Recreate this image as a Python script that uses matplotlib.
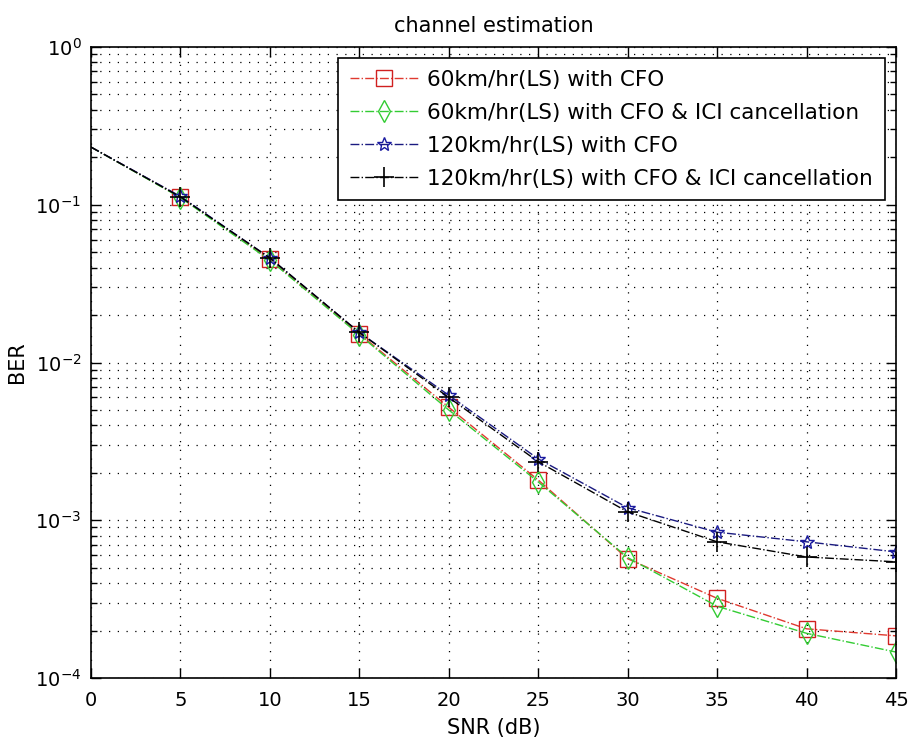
import matplotlib
matplotlib.use("Agg")
import matplotlib.pyplot as plt
from matplotlib.ticker import LogLocator, NullFormatter

plt.rcParams['font.family'] = ['DejaVu Sans']
plt.rcParams['mathtext.fontset'] = 'dejavusans'

snr = [0, 5, 10, 15, 20, 25, 30, 35, 40, 45]
ber_60_cfo = [0.232, 0.112, 0.0450, 0.0152, 0.0052, 0.00180, 5.7e-4, 3.2e-4, 2.05e-4, 1.85e-4]
ber_60_ici = [0.232, 0.111, 0.0445, 0.0150, 0.0050, 0.00175, 5.8e-4, 2.85e-4, 1.92e-4, 1.46e-4]
ber_120_cfo = [0.232, 0.113, 0.0460, 0.0155, 0.0062, 0.00245, 1.20e-3, 8.4e-4, 7.3e-4, 6.3e-4]
ber_120_ici = [0.232, 0.112, 0.0460, 0.0155, 0.0060, 0.00235, 1.13e-3, 7.3e-4, 5.85e-4, 5.45e-4]
labels = ['60km/hr(LS) with CFO',
          '60km/hr(LS) with CFO & ICI cancellation',
          '120km/hr(LS) with CFO',
          '120km/hr(LS) with CFO & ICI cancellation']

fig = plt.figure(figsize=(9.13, 7.42), dpi=100)
ax = fig.add_axes([91/913, 1-678/742, (896-91)/913, (678-47)/742])

me = slice(1, None)
ax.semilogy(snr, ber_60_cfo, '-.', color='#e03a30', marker='s', ms=11, mfc='none', mec='#d02020',
            lw=1.0, markevery=me, label=labels[0])
ax.semilogy(snr, ber_60_ici, '-.', color='#33cc33', marker='d', ms=11, mfc='none', mec='#33cc33',
            lw=1.0, markevery=me, label=labels[1])
ax.semilogy(snr, ber_120_cfo, '-.', color='#1a1a80', marker='*', ms=10, mfc='none', mec='#1a1aa0',
            lw=1.0, markevery=me, label=labels[2])
ax.semilogy(snr, ber_120_ici, '-.', color='black', marker='+', ms=14, mew=1.2, lw=1.0,
            markevery=me, label=labels[3])

ax.set_xlim(0, 45)
ax.set_ylim(1e-4, 1)
ax.set_xticks(range(0, 46, 5))
ax.yaxis.set_major_locator(LogLocator(base=10, numticks=10))
ax.yaxis.set_minor_locator(LogLocator(base=10, subs=range(2, 10), numticks=10))
ax.yaxis.set_minor_formatter(NullFormatter())

ax.grid(True, which='major', linestyle=(0, (1, 6)), color='black', lw=0.9)
ax.grid(True, which='minor', axis='y', linestyle=(0, (1, 6)), color='black', lw=0.9)
ax.tick_params(which='both', direction='in', top=True, right=True, labelsize=14)
ax.tick_params(which='major', length=7, width=1)
ax.tick_params(which='minor', length=4, width=1)
ax.tick_params(axis='x', which='major', pad=9)
ax.tick_params(axis='y', which='major', pad=7)
for s in ax.spines.values():
    s.set_linewidth(1.2)

ax.set_title('channel estimation', fontsize=15, pad=11)
ax.set_xlabel('SNR (dB)', fontsize=15, labelpad=6)
ax.set_ylabel('BER', fontsize=15, labelpad=6)

leg = ax.legend(loc='upper right', bbox_to_anchor=((885-91)/805, (678-58)/631),
                bbox_transform=ax.transAxes, borderaxespad=0, fontsize=15.5,
                fancybox=False, edgecolor='black', framealpha=1, handlelength=3.2,
                borderpad=0.55, labelspacing=0.6, handletextpad=0.4)
leg.get_frame().set_linewidth(1.2)

fig.savefig('out.png', dpi=100)
